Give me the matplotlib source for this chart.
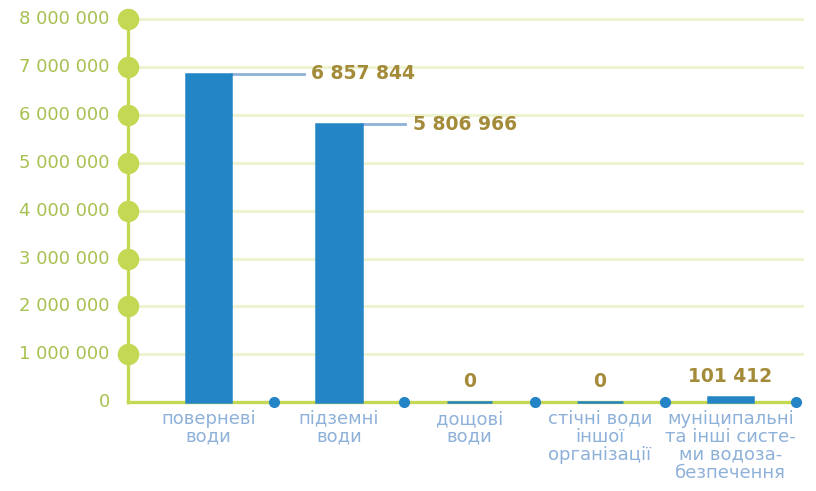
import numpy as np
import matplotlib.pyplot as plt

# Water sources and volumes
categories = ["поверневі\nводи", "підземні\nводи", "дощові\nводи",
              "стічні води\nіншої\nорганізації",
              "муніципальні\nта інші систе-\nми водоза-\nбезпечення"]
values = [6857844, 5806966, 0, 0, 101412]
value_labels = ["6 857 844", "5 806 966", "0", "0", "101 412"]
yticks = list(range(0, 8000001, 1000000))
ytick_labels = ["0", "1 000 000", "2 000 000", "3 000 000", "4 000 000",
                "5 000 000", "6 000 000", "7 000 000", "8 000 000"]

green = "#A6C150"
dot_green = "#C5D854"
grid_green = "#EEF3D2"
bar_blue = "#2384C6"
label_blue = "#8EB1D9"
value_gold = "#A38B3A"

fig = plt.figure(figsize=(8.16, 4.91), dpi=100)
ax = fig.add_axes([0.157, 0.181, 0.826, 0.780])

x = np.arange(len(categories))
bw = 0.35
ax.bar(x, values, width=bw, color=bar_blue, edgecolor=bar_blue, linewidth=1.8,
       zorder=5, clip_on=False)

ax.set_xlim(-0.615, 4.55)
ax.set_ylim(0, 8000000)

# grid lines
for t in yticks[1:]:
    ax.plot([-0.615, 4.55], [t, t], color=grid_green, lw=2.2, zorder=1, clip_on=False)

# axes lines
ax.plot([-0.615, -0.615], [0, 8000000], color=dot_green, lw=2.4, zorder=2, clip_on=False)
ax.plot([-0.615, 4.5], [0, 0], color=dot_green, lw=2.4, zorder=2, clip_on=False)
ax.plot([-0.615] * 8, yticks[1:], "o", color=dot_green, ms=14.5, zorder=4, clip_on=False)
ax.plot(x + 0.5, [0] * len(x), "o", color=bar_blue, ms=7, zorder=4, clip_on=False)

for s in ax.spines.values():
    s.set_visible(False)
ax.set_xticks([])
ax.set_yticks([])

for t, lab in zip(yticks, ytick_labels):
    ax.text(-0.755, t, lab, ha="right", va="center", color=green, fontsize=13)

for xi, cat in zip(x, categories):
    ax.text(xi, -160000, cat, ha="center", va="top", color=label_blue, fontsize=13,
            linespacing=1.0)

# value labels: leader lines for tall bars, centred labels for small ones
for i, (v, lab) in enumerate(zip(values, value_labels)):
    if v > 1000000:
        x0 = i + bw / 2
        x1 = i + 0.73 if i == 0 else i + 0.51
        ax.plot([x0, x1], [v, v], color=label_blue, lw=2, zorder=3)
        ax.text(x1 + 0.06, v, lab, ha="left", va="center", color=value_gold,
                fontsize=13.5, fontweight="bold")
    else:
        ax.text(i, v + 230000, lab, ha="center", va="bottom", color=value_gold,
                fontsize=13.5, fontweight="bold")

fig.savefig("out.png", dpi=100)
